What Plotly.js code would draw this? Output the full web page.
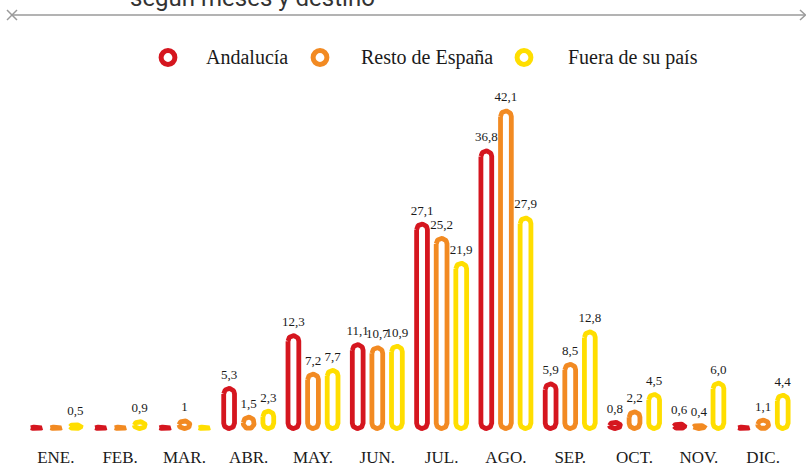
<!DOCTYPE html>
<html>
<head>
<meta charset="utf-8">
<script src="https://cdn.plot.ly/plotly-3.0.1.min.js"></script>
<style>html,body{margin:0;padding:0;background:#fff;}#chart{width:806px;height:467px;}</style>
</head>
<body>
<div id="chart"></div>
<script>
// ---- data ----
const months = ['ENE.','FEB.','MAR.','ABR.','MAY.','JUN.','JUL.','AGO.','SEP.','OCT.','NOV.','DIC.'];
const seriesNames = ['Andalucía','Resto de España','Fuera de su país'];
const andalucia = [0, 0, 0, 5.3, 12.3, 11.1, 27.1, 36.8, 5.9, 0.8, 0.6, 0];
const resto     = [0, 0, 1, 1.5, 7.2, 10.7, 25.2, 42.1, 8.5, 2.2, 0.4, 1.1];
const fuera     = [0.5, 0.9, 0, 2.3, 7.7, 10.9, 21.9, 27.9, 12.8, 4.5, 6.0, 4.4];
const andaluciaText = ['', '', '', '5,3', '12,3', '11,1', '27,1', '36,8', '5,9', '0,8', '0,6', ''];
const restoText     = ['', '', '1', '1,5', '7,2', '10,7', '25,2', '42,1', '8,5', '2,2', '0,4', '1,1'];
const fueraText     = ['0,5', '0,9', '', '2,3', '7,7', '10,9', '21,9', '27,9', '12,8', '4,5', '6,0', '4,4'];
const titleText = 'según meses y destino';

// ---- style / geometry ----
const colors = ['#d5161f', '#f28a22', '#ffde00'];
const W = 806, H = 467;
const M = {l: 14, r: 3, t: 30, b: 27};
const plotW = W - M.l - M.r, plotH = H - M.t - M.b;
const xr = [-0.65, 11.62];
const yr = [-1.525, 52.852];
const pxPerX = plotW / (xr[1] - xr[0]);
const pxPerY = plotH / (yr[1] - yr[0]);
const groupOffsetPx = 19.6;
const barHalfPx = 5.4;    // half width to stroke centre
const strokePx = 4.8;
const textFont = 'Liberation Serif, serif';

function pillOutline(values, offsetPx) {
  const xs = [], ys = [];
  const dx = offsetPx / pxPerX;
  const hw = barHalfPx / pxPerX;
  const N = 18;
  values.forEach((v, i) => {
    const c = i + dx;
    const hpx = Math.max(v * pxPerY, 1.4);
    const rpx = Math.min(barHalfPx, hpx / 2);
    const top = hpx / pxPerY, ry = rpx / pxPerY;
    for (let k = 0; k <= N; k++) {           // top arc, left -> right
      const t = Math.PI - Math.PI * k / N;
      xs.push(c + hw * Math.cos(t)); ys.push(top - ry + ry * Math.sin(t));
    }
    for (let k = 0; k <= N; k++) {           // bottom arc, right -> left
      const t = -Math.PI * k / N;
      xs.push(c + hw * Math.cos(t)); ys.push(ry + ry * Math.sin(t));
    }
    xs.push(xs[xs.length - 2 * (N + 1)]); ys.push(ys[ys.length - 2 * (N + 1)]);
    xs.push(null); ys.push(null);
  });
  return {xs, ys};
}

const allValues = [andalucia, resto, fuera];
const allTexts = [andaluciaText, restoText, fueraText];
const offsets = [-groupOffsetPx, 0, groupOffsetPx];

const traces = [];
allValues.forEach((vals, s) => {
  const o = pillOutline(vals, offsets[s]);
  traces.push({
    type: 'scatter', mode: 'lines', name: seriesNames[s],
    x: o.xs, y: o.ys, connectgaps: false,
    line: {color: colors[s], width: strokePx},
    hoverinfo: 'skip', showlegend: false
  });
});
allValues.forEach((vals, s) => {
  traces.push({
    type: 'scatter', mode: 'text', name: seriesNames[s] + ' (valores)',
    x: vals.map((v, i) => i + offsets[s] / pxPerX),
    y: vals.map(v => v + (strokePx / 2 + 4) / pxPerY),
    text: allTexts[s], textposition: 'top center',
    textfont: {family: textFont, size: 13, color: '#1a1a1a'},
    hoverinfo: 'skip', showlegend: false, cliponaxis: false
  });
});

// paper helpers
const px2x = px => (px - M.l) / plotW;
const py2y = py => (M.t + plotH - py) / plotH;

const shapes = [];
const annotations = [];
// top rule with cross and arrow
const gray = '#9a9a9a';
shapes.push({type: 'line', xref: 'paper', yref: 'paper', x0: px2x(12), x1: px2x(805), y0: py2y(15), y1: py2y(15), line: {color: gray, width: 1.5}});
shapes.push({type: 'line', xref: 'paper', yref: 'paper', x0: px2x(7), x1: px2x(17), y0: py2y(10), y1: py2y(20), line: {color: gray, width: 1.5}});
shapes.push({type: 'line', xref: 'paper', yref: 'paper', x0: px2x(7), x1: px2x(17), y0: py2y(20), y1: py2y(10), line: {color: gray, width: 1.5}});
shapes.push({type: 'path', xref: 'paper', yref: 'paper',
  path: `M ${px2x(800)},${py2y(10)} L ${px2x(805.5)},${py2y(15)} L ${px2x(800)},${py2y(20)}`,
  line: {color: gray, width: 1.5}});
annotations.push({xref: 'paper', yref: 'paper', x: px2x(128), y: py2y(14), xanchor: 'left', yanchor: 'bottom',
  text: titleText, showarrow: false, font: {family: 'Roboto, sans-serif', size: 24, color: '#333'}});

// legend
const legendRingX = [168, 320, 524];
const legendTextX = [204, 359, 566];
const legendY = 57.5;
seriesNames.forEach((n, s) => {
  shapes.push({type: 'circle', xref: 'paper', yref: 'paper', xsizemode: 'pixel', ysizemode: 'pixel',
    xanchor: px2x(legendRingX[s]), yanchor: py2y(legendY), x0: -6.9, x1: 6.9, y0: -6.9, y1: 6.9,
    line: {color: colors[s], width: 5}, fillcolor: '#fff'});
  annotations.push({xref: 'paper', yref: 'paper', x: px2x(legendTextX[s]), y: py2y(legendY), xanchor: 'left', yanchor: 'middle',
    text: n, showarrow: false, font: {family: textFont, size: 20, color: '#1a1a1a'}});
});

const layout = {
  width: W, height: H, margin: M, paper_bgcolor: '#fff', plot_bgcolor: '#fff',
  showlegend: false,
  xaxis: {range: xr, tickmode: 'array', tickvals: months.map((m, i) => i), ticktext: months,
    showgrid: false, zeroline: false, showline: false, ticks: '', fixedrange: true,
    ticklabelstandoff: 5,
    tickfont: {family: textFont, size: 17, color: '#1a1a1a'}},
  yaxis: {range: yr, visible: false, showgrid: false, zeroline: false, fixedrange: true},
  shapes, annotations
};
Plotly.newPlot('chart', traces, layout, {displayModeBar: false, staticPlot: true});
</script>
</body>
</html>
